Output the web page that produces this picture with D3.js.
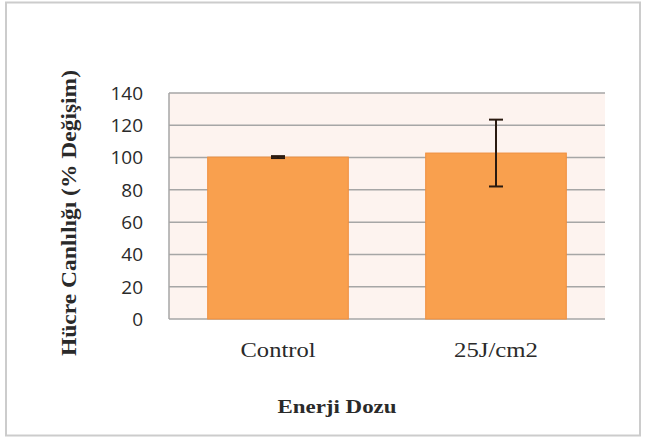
<!DOCTYPE html>
<html><head><meta charset="utf-8">
<script src="https://cdn.jsdelivr.net/npm/d3@7"></script>
<style>body{margin:0;background:#fff;}svg{display:block;}</style>
</head><body>
<script>
const categories = ["Control", "25J/cm2"];
const values = [100.3, 102.8];
const errors = [0.6, 20.7];
const yTicks = [0, 20, 40, 60, 80, 100, 120, 140];
const yTitle = "Hücre Canlılığı (% Değişim)";
const xTitle = "Enerji Dozu";

const W = 646, H = 437;
const m = {left: 169, top: 93, right: 41, bottom: 118};
const serif = "'Liberation Serif', 'Times New Roman', serif";
const svg = d3.select("body").append("svg").attr("width", W).attr("height", H);

// outer frame
svg.append("rect").attr("x", 6).attr("y", 2.5).attr("width", 634).attr("height", 433)
  .attr("fill", "#fff").attr("stroke", "#cccccc").attr("stroke-width", 2);

const x = d3.scaleBand().domain(categories).range([m.left, W - m.right]).paddingInner(0.355).paddingOuter(0.1775);
const y = d3.scaleLinear().domain([0, 140]).range([H - m.bottom, m.top]);

svg.append("rect").attr("x", m.left).attr("y", m.top)
  .attr("width", W - m.right - m.left).attr("height", H - m.bottom - m.top).attr("fill", "#fdf3ef");

// gridlines
svg.append("g").selectAll("line").data(yTicks).join("line")
  .attr("x1", m.left).attr("x2", W - m.right)
  .attr("y1", d => y(d)).attr("y2", d => y(d))
  .attr("stroke", "#a6a6a6").attr("stroke-width", 1.5);
svg.append("line").attr("x1", m.left).attr("x2", m.left).attr("y1", m.top).attr("y2", y(0))
  .attr("stroke", "#a6a6a6").attr("stroke-width", 1.5);

// bars
svg.append("g").selectAll("rect").data(values).join("rect")
  .attr("x", (d, i) => x(categories[i])).attr("width", x.bandwidth())
  .attr("y", d => y(d)).attr("height", d => y(0) - y(d))
  .attr("fill", "#f9a04e").attr("stroke", "#ef8f3e").attr("stroke-width", 1);

// error bars
const eb = svg.append("g").attr("stroke", "#2a1a10").attr("stroke-width", 2);
values.forEach((v, i) => {
  const cx = x(categories[i]) + x.bandwidth() / 2;
  eb.append("line").attr("x1", cx).attr("x2", cx).attr("y1", y(v + errors[i])).attr("y2", y(v - errors[i]));
  [v + errors[i], v - errors[i]].forEach(e => {
    eb.append("line").attr("x1", cx - 7).attr("x2", cx + 7).attr("y1", y(e)).attr("y2", y(e));
  });
});

// y tick labels
svg.append("g").selectAll("text").data(yTicks).join("text")
  .attr("x", 143).attr("y", d => y(d)).attr("dy", "0.36em")
  .attr("text-anchor", "end").style("font-family", "'Open Sans', 'Liberation Sans', sans-serif")
  .style("font-size", "19px").attr("fill", "#2a2a2a").text(d => d);

// category labels
const catW = [75, 84];
svg.append("g").selectAll("text").data(categories).join("text")
  .attr("x", d => x(d) + x.bandwidth() / 2).attr("y", 357)
  .attr("text-anchor", "middle").style("font-family", serif)
  .style("font-size", "20px").attr("fill", "#2a2a2a")
  .attr("textLength", (d, i) => catW[i]).attr("lengthAdjust", "spacingAndGlyphs").text(d => d);

// axis titles
svg.append("text").attr("x", 337).attr("y", 413).attr("text-anchor", "middle")
  .style("font-family", serif).style("font-weight", "bold")
  .style("font-size", "19px").attr("fill", "#2a2a2a")
  .attr("textLength", 119).attr("lengthAdjust", "spacingAndGlyphs").text(xTitle);
svg.append("text").attr("transform", "translate(76,213) rotate(-90)").attr("text-anchor", "middle")
  .style("font-family", serif).style("font-weight", "bold")
  .style("font-size", "20px").attr("fill", "#2a2a2a")
  .attr("textLength", 286).attr("lengthAdjust", "spacingAndGlyphs").text(yTitle);
</script>
</body></html>
